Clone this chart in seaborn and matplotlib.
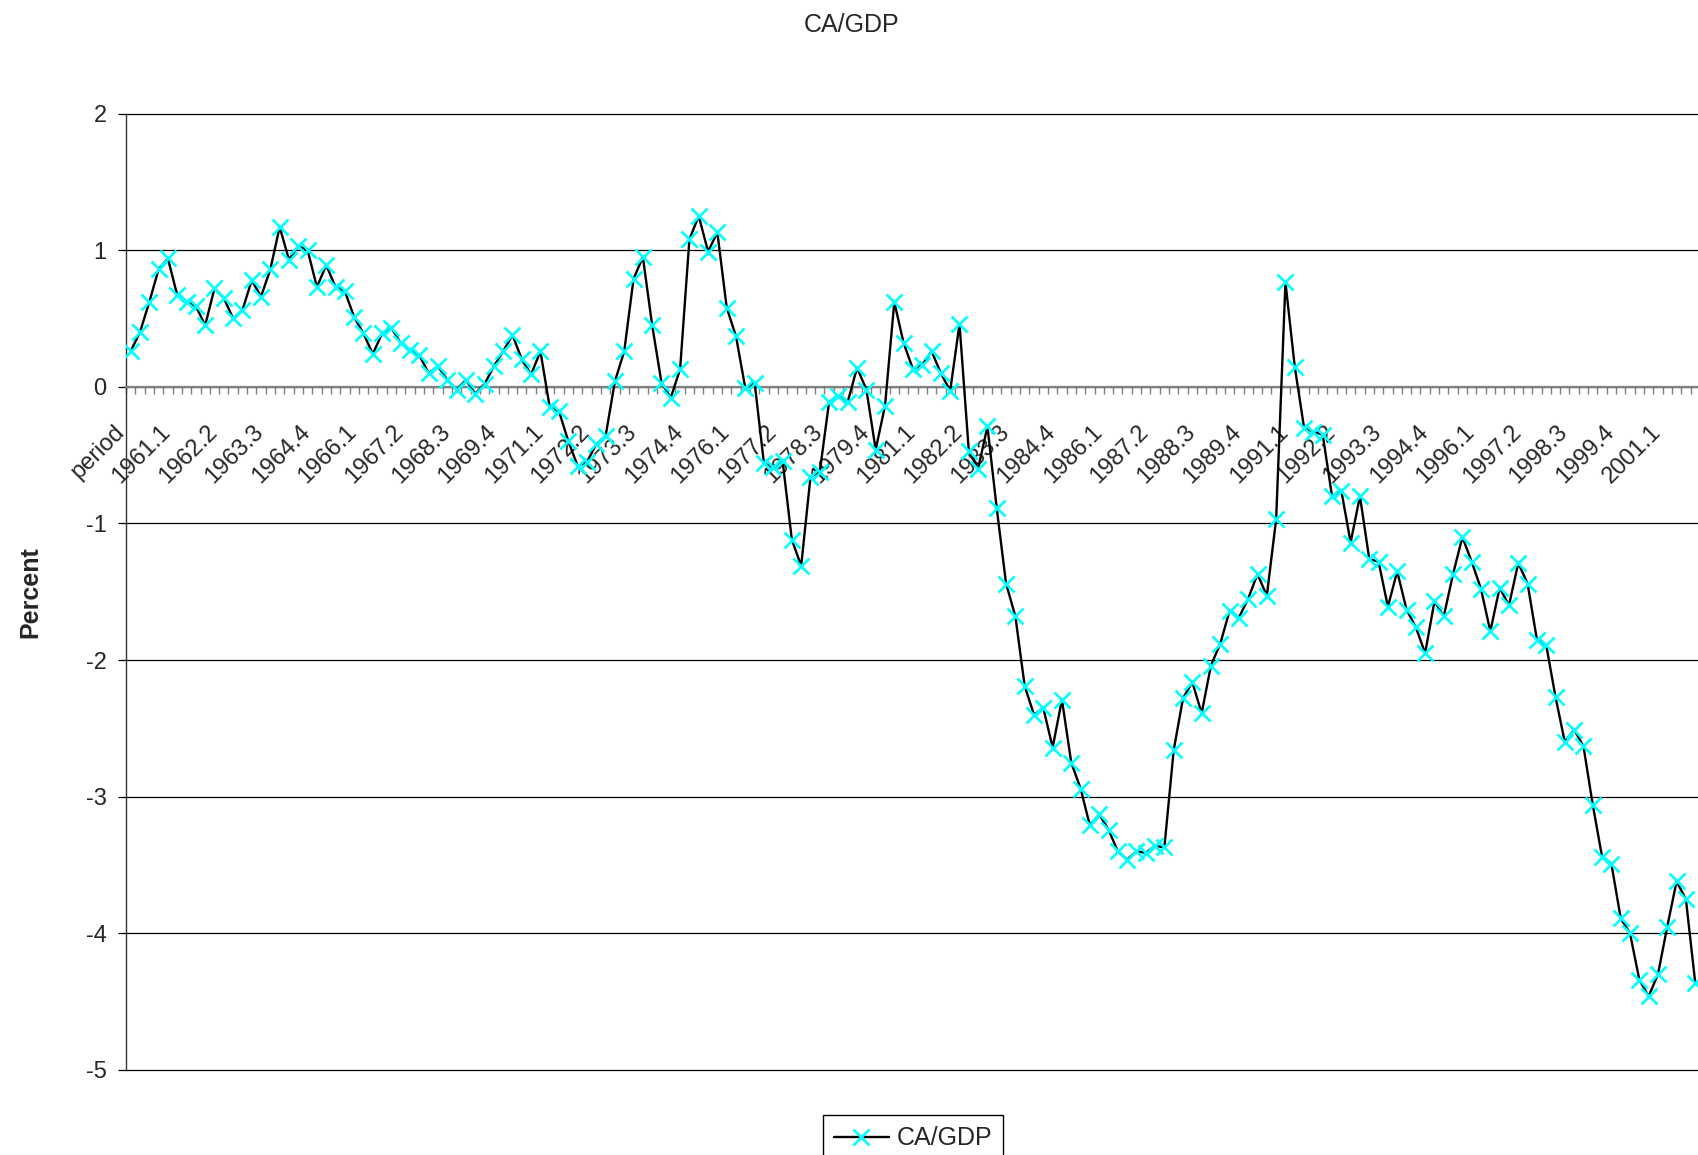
import numpy as np
import pandas as pd
import matplotlib
matplotlib.use("Agg")
import matplotlib.pyplot as plt
import matplotlib.transforms as mtransforms
from matplotlib.ticker import FixedLocator
import seaborn as sns

# ---- data -------------------------------------------------------------
categories = ["period"] + [f"{1960 + k // 4}.{k % 4 + 1}" for k in range(168)]

ca_gdp = [
    0.26, 0.40, 0.62, 0.86, 0.94, 0.67, 0.62, 0.59, 0.45, 0.72,
    0.65, 0.50, 0.56, 0.78, 0.66, 0.86, 1.17, 0.93, 1.03, 1.00,
    0.73, 0.89, 0.73, 0.70, 0.51, 0.39, 0.24, 0.39, 0.43, 0.32,
    0.27, 0.23, 0.10, 0.15, 0.05, -0.02, 0.05, -0.05, 0.02, 0.15,
    0.26, 0.38, 0.20, 0.09, 0.26, -0.15, -0.18, -0.40, -0.58, -0.55,
    -0.42, -0.36, 0.04, 0.26, 0.79, 0.95, 0.45, 0.03, -0.08, 0.13,
    1.08, 1.25, 0.99, 1.13, 0.58, 0.37, -0.01, 0.03, -0.56, -0.59,
    -0.54, -1.12, -1.31, -0.66, -0.62, -0.11, -0.07, -0.11, 0.14, -0.02,
    -0.46, -0.14, 0.62, 0.32, 0.13, 0.16, 0.26, 0.10, -0.03, 0.46,
    -0.47, -0.60, -0.29, -0.89, -1.44, -1.68, -2.19, -2.40, -2.35, -2.64,
    -2.29, -2.75, -2.94, -3.21, -3.13, -3.24, -3.40, -3.46, -3.40, -3.41,
    -3.36, -3.37, -2.66, -2.28, -2.16, -2.39, -2.04, -1.88, -1.64, -1.69,
    -1.55, -1.37, -1.53, -0.97, 0.765, 0.147, -0.30, -0.33, -0.35, -0.80,
    -0.76, -1.14, -0.80, -1.26, -1.28, -1.61, -1.35, -1.63, -1.76, -1.95,
    -1.57, -1.68, -1.37, -1.10, -1.28, -1.48, -1.79, -1.47, -1.60, -1.29,
    -1.44, -1.85, -1.89, -2.27, -2.60, -2.51, -2.63, -3.06, -3.44, -3.49,
    -3.89, -4.00, -4.34, -4.46, -4.30, -3.95, -3.62, -3.75, -4.36,
]

y_ticks = [-5, -4, -3, -2, -1, 0, 1, 2]
label_step = 5
series_name = "CA/GDP"
title_text = "CA/GDP"
y_label = "Percent"

# ---- plot -------------------------------------------------------------
sns.set_theme(style="white")
plt.rcParams["font.family"] = ["Liberation Sans", "DejaVu Sans"]

W, H = 1698, 1155
fig = plt.figure(figsize=(W / 100, H / 100), dpi=100)
ax_left, ax_top, ax_bottom = 126, 113.5, 1070
ax = fig.add_axes([ax_left / W, 1 - ax_bottom / H, 1 - ax_left / W,
                   (ax_bottom - ax_top) / H])

df = pd.DataFrame({"pos": np.arange(len(ca_gdp)), series_name: ca_gdp})
sns.lineplot(data=df, x="pos", y=series_name, ax=ax, color="black",
             linewidth=1.7, marker="x", markersize=11,
             markeredgecolor="#00FFFF", markeredgewidth=1.9,
             label=series_name, zorder=3)

ax.set_xlim(-0.5, 168.3)
ax.set_ylim(-5, 2)

# y axis
ax.set_yticks(y_ticks)
ax.set_yticklabels([str(v) for v in y_ticks], fontsize=17)
ax.yaxis.grid(True, color="black", linewidth=0.9)
ax.set_axisbelow(True)
for gl in ax.get_ygridlines():
    gl.set_clip_on(False)
ax.tick_params(axis="y", which="major", left=True, length=6, width=0.9,
               color="black", pad=8, direction="out")
ax.set_ylabel(y_label, fontsize=18, fontweight="bold")
ax.yaxis.set_label_coords(-0.053, 0.5)

# spines
for s in ("top", "right"):
    ax.spines[s].set_visible(False)
ax.spines["left"].set_color("#333333")
ax.spines["left"].set_linewidth(1.0)
ax.spines["bottom"].set_position(("data", 0))
ax.spines["bottom"].set_color("#808080")
ax.spines["bottom"].set_linewidth(1.6)

# x axis: category labels every 5th, tick marks between categories
pos_lab = list(range(0, len(categories), label_step))
ax.set_xticks(pos_lab)
ax.set_xticklabels([categories[i] for i in pos_lab], fontsize=17,
                   rotation=45, ha="right", va="baseline",
                   rotation_mode="anchor")
ax.tick_params(axis="x", which="major", bottom=True, length=0, pad=0)
ax.xaxis.set_minor_locator(FixedLocator(np.arange(-0.5, len(categories), 1)))
ax.tick_params(axis="x", which="minor", bottom=True, length=5, width=1.0,
               color="#808080", direction="out")
ax.set_xlabel("")
off = mtransforms.ScaledTranslation(-4 / 72, -33 / 72, fig.dpi_scale_trans)
for lab in ax.get_xticklabels():
    lab.set_transform(lab.get_transform() + off)

# title
fig.text(852 / W, 1 - 25 / H, title_text, ha="center", va="center",
         fontsize=18)

# legend
ax.legend(loc="upper center", bbox_to_anchor=(913 / W, 1 - 1115 / H),
          bbox_transform=fig.transFigure, fontsize=18, frameon=True,
          fancybox=False, edgecolor="black", framealpha=1,
          handlelength=2.2, borderpad=0.45, handletextpad=0.3,
          borderaxespad=0)
ax.get_legend().get_frame().set_linewidth(1.0)

fig.savefig("out.png", dpi=100)
